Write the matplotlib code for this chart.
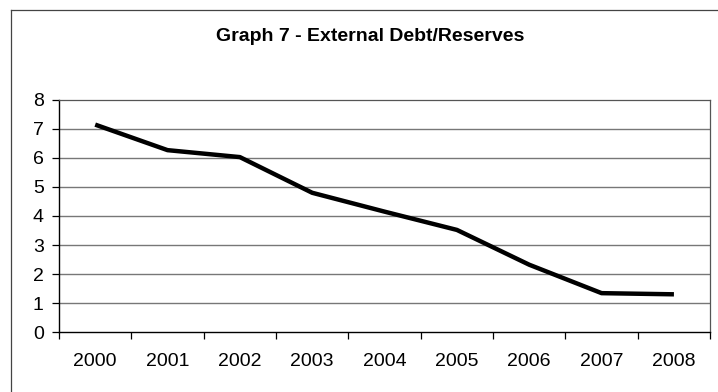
import matplotlib.pyplot as plt
from matplotlib.lines import Line2D
import numpy as np

years = ['2000', '2001', '2002', '2003', '2004', '2005', '2006', '2007', '2008']
debt_reserves = [7.15, 6.27, 6.03, 4.8, 4.15, 3.52, 2.32, 1.34, 1.3]

plt.rcParams['font.family'] = ['Liberation Sans', 'DejaVu Sans']

fig = plt.figure(figsize=(7.18, 3.92), dpi=100)
ax = fig.add_axes([0.0822, 0.153, 0.9068, 0.592])

x = np.arange(len(years))
ax.plot(x, debt_reserves, color='black', linewidth=3.2, solid_capstyle='butt')

ax.set_xlim(-0.5, len(years) - 0.5)
ax.set_ylim(0, 8)
ax.set_yticks(range(0, 9))
ax.set_xticks(x)
ax.set_xticklabels(years)
ax.set_xticks(np.arange(-0.5, len(years)), minor=True)
ax.tick_params(axis='x', which='major', length=0, pad=15, labelsize=14)
ax.tick_params(axis='x', which='minor', length=5, width=0.9, color='black')
ax.tick_params(axis='y', length=5, width=0.9, pad=6, labelsize=14)

for v in range(1, 8):
    ax.axhline(v, color='#777777', linewidth=1.0, zorder=0)

for side in ['top', 'right']:
    ax.spines[side].set_color('#555555')
    ax.spines[side].set_linewidth(0.9)
for side in ['left', 'bottom']:
    ax.spines[side].set_color('black')
    ax.spines[side].set_linewidth(1.0)

fig.text(0.515, 0.908, 'Graph 7 - External Debt/Reserves', ha='center', va='center',
         fontsize=14, fontweight='bold')

# outer chart frame
fig.add_artist(Line2D([11/718, 11/718], [0, 1 - 10/392], transform=fig.transFigure,
                      color='#444444', linewidth=0.9))
fig.add_artist(Line2D([11/718, 1], [1 - 10/392, 1 - 10/392], transform=fig.transFigure,
                      color='#444444', linewidth=0.9))

fig.savefig('out.png', dpi=100)
